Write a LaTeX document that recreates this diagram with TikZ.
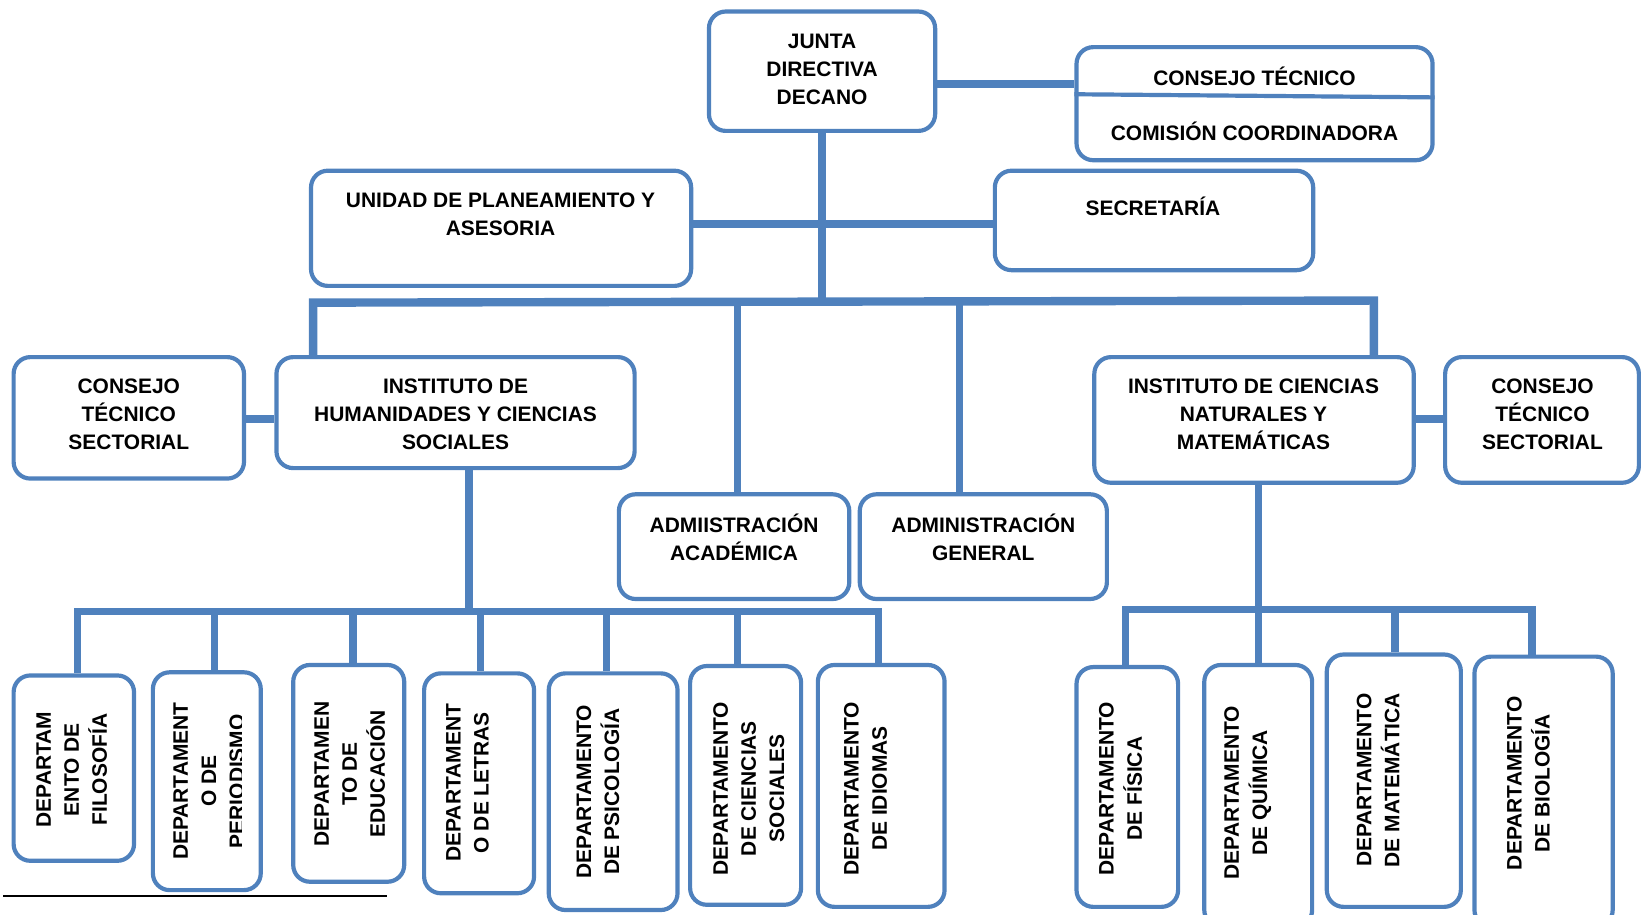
\documentclass[tikz,border=0pt]{standalone}
\usepackage{fontspec}
\setmainfont{Liberation Sans}
\definecolor{orgblue}{RGB}{79,129,189}
\begin{document}
\begin{tikzpicture}[x=1pt, y=-1pt,
		box/.style={draw=orgblue, line width=4pt, rounded corners=16pt, fill=white, inner sep=0pt},
		txt/.style={font=\fontsize{20}{26.8}\selectfont\bfseries, align=center, inner sep=0pt},
		vtxt/.style={txt, rotate=90},
		link/.style={orgblue, line width=7pt},
		sidelink/.style={orgblue, line width=8pt}]
		\clip (0,0) rectangle (1568,873);

		\coordinate (busA) at (299,289);
		\coordinate (busB) at (1312,287);
		\coordinate (acadj) at (704,288);
		\coordinate (genj) at (916,288);

		\coordinate (hum) at (448,584);
		\coordinate (filoj) at (74,584);
		\coordinate (perij) at (205,584);
		\coordinate (eduj) at (337,584);
		\coordinate (letrj) at (459,584);
		\coordinate (psicj) at (579,584);
		\coordinate (csj) at (704,584);
		\coordinate (idioj) at (839,584);

		\coordinate (cien) at (1202,582);
		\coordinate (fisj) at (1075,582);
		\coordinate (matej) at (1332,582);
		\coordinate (biolj) at (1463,582);

		\node[box, minimum width=216pt, minimum height=114pt] (junta) at (785,68) {};
		\node[box, minimum width=340pt, minimum height=108pt] (consejo) at (1198,99) {};
		\node[box, minimum width=363pt, minimum height=110pt] (unidad) at (478.5,218) {};
		\node[box, minimum width=304pt, minimum height=95pt] (secre) at (1102,210.5) {};
		\node[box, minimum width=220pt, minimum height=116pt] (ctsizq) at (123,399) {};
		\node[box, minimum width=342pt, minimum height=106pt] (insthum) at (435,394) {};
		\node[box, minimum width=220pt, minimum height=100pt] (acad) at (701,522) {};
		\node[box, minimum width=236pt, minimum height=100pt] (gen) at (939,522) {};
		\node[box, minimum width=305pt, minimum height=120pt] (instcien) at (1197.5,401) {};
		\node[box, minimum width=185pt, minimum height=120pt] (ctsder) at (1472.5,401) {};

		\node[box, minimum width=115pt, minimum height=177pt] (filo) at (70.5,733.5) {};
		\node[box, minimum width=103pt, minimum height=208pt] (peri) at (197.5,746) {};
		\node[box, minimum width=106pt, minimum height=207pt] (edu) at (333,738.5) {};
		\node[box, minimum width=105pt, minimum height=210pt] (letr) at (457.5,748) {};
		\node[box, minimum width=123pt, minimum height=226pt] (psic) at (585.5,756) {};
		\node[box, minimum width=106pt, minimum height=228pt] (cs) at (712,750) {};
		\node[box, minimum width=121pt, minimum height=231pt] (idio) at (841.5,750.5) {};
		\node[box, minimum width=97pt, minimum height=229pt] (fis) at (1076.5,751.5) {};
		\node[box, minimum width=103pt, minimum height=250pt] (quim) at (1201.5,760) {};
		\node[box, minimum width=128pt, minimum height=241pt] (mate) at (1331,745.5) {};
		\node[box, minimum width=132pt, minimum height=258pt] (biol) at (1474,756) {};

		\draw[sidelink] (junta.east |- 0,80) -- (consejo.west |- 0,80);
		\draw[orgblue, line width=4pt] (consejo.west |- 0,90) -- (consejo.east |- 0,93);
		\draw[link] (junta.south) -- (junta.south |- acadj);
		\draw[sidelink] (unidad.east |- 0,214) -- (secre.west |- 0,214);
		\draw[sidelink] (insthum.north -| busA) -- (busA) -- (busB) -- (instcien.north -| busB);
		\draw[link] (acad.north -| acadj) -- (acadj);
		\draw[link] (gen.north -| genj) -- (genj);
		\draw[sidelink] (ctsizq.east |- 0,400) -- (insthum.west |- 0,400);
		\draw[sidelink] (instcien.east |- 0,400) -- (ctsder.west |- 0,400);

		\draw[link] (insthum.south -| hum) -- (hum);
		\draw[link] (filo.north -| filoj) -- (filoj) -- (idioj) -- (idio.north -| idioj);
		\draw[link] (peri.north -| perij) -- (perij);
		\draw[link] (edu.north -| eduj) -- (eduj);
		\draw[link] (letr.north -| letrj) -- (letrj);
		\draw[link] (psic.north -| psicj) -- (psicj);
		\draw[link] (cs.north -| csj) -- (csj);

		\draw[link] (instcien.south -| cien) -- (cien);
		\draw[link] (fis.north -| fisj) -- (fisj) -- (biolj) -- (biol.north -| biolj);
		\draw[link] (quim.north -| cien) -- (cien);
		\draw[link] (mate.north -| matej) -- (matej);

		\node[txt] (juntatxt) at (785,66) {JUNTA\\DIRECTIVA\\DECANO};
		\node[txt] (consejotxt) at (1198,73) {CONSEJO TÉCNICO};
		\node[txt] (comisiontxt) at (1198,125) {COMISIÓN COORDINADORA};
		\node[txt] (unidadtxt) at (478,205) {UNIDAD DE PLANEAMIENTO Y\\ASESORIA};
		\node[txt] (secretxt) at (1101,197) {SECRETARÍA};
		\node[txt] (ctsizqtxt) at (123,396) {CONSEJO\\TÉCNICO\\SECTORIAL};
		\node[txt] (insthumtxt) at (435,396) {INSTITUTO DE\\HUMANIDADES Y CIENCIAS\\SOCIALES};
		\node[txt] (acadtxt) at (701,513.5) {ADMIISTRACIÓN\\ACADÉMICA};
		\node[txt] (gentxt) at (939,513.5) {ADMINISTRACIÓN\\GENERAL};
		\node[txt] (instcientxt) at (1197,396) {INSTITUTO DE CIENCIAS\\NATURALES Y\\MATEMÁTICAS};
		\node[txt] (ctsdertxt) at (1473,396) {CONSEJO\\TÉCNICO\\SECTORIAL};

		\node[vtxt] (filotxt) at (68.5,735) {DEPARTAM\\ENTO DE\\FILOSOFÍA};
		\begin{scope}
			\clip (140,600) rectangle (231,860);
			\node[vtxt] (peritxt) at (199.5,746) {DEPARTAMENT\\O DE\\PERIODISMO};
		\end{scope}
		\node[vtxt] (edutxt) at (334,739) {DEPARTAMEN\\TO DE\\EDUCACIÓN};
		\node[vtxt] (letrtxt) at (446.5,747.5) {DEPARTAMENT\\O DE LETRAS};
		\node[vtxt] (psictxt) at (571,756) {DEPARTAMENTO\\DE PSICOLOGÍA};
		\node[vtxt] (cstxt) at (715,753) {DEPARTAMENTO\\DE CIENCIAS\\SOCIALES};
		\node[vtxt] (idiotxt) at (826.5,753) {DEPARTAMENTO\\DE IDIOMAS};
		\node[vtxt] (fistxt) at (1070,753) {DEPARTAMENTO\\DE FÍSICA};
		\node[vtxt] (quimtxt) at (1191.5,757) {DEPARTAMENTO\\DE QUÍMICA};
		\node[vtxt] (matetxt) at (1316,745) {DEPARTAMENTO\\DE MATEMÁTICA};
		\node[vtxt] (bioltxt) at (1459.5,748) {DEPARTAMENTO\\DE BIOLOGÍA};

		\draw[line width=2pt] (3,856) -- (370,856);
\end{tikzpicture}
\end{document}
